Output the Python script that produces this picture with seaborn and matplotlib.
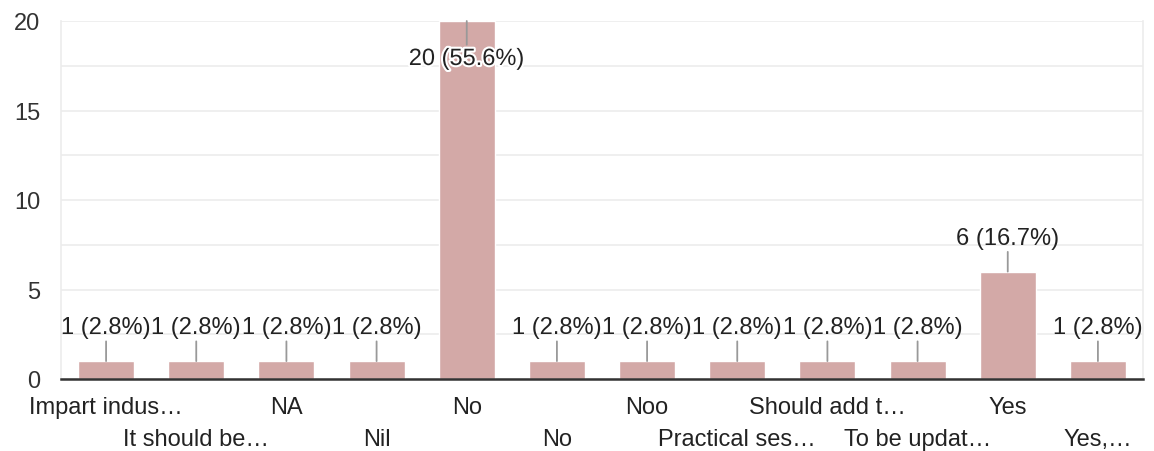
import matplotlib.pyplot as plt
import matplotlib.patheffects as pe
import seaborn as sns
import pandas as pd

# survey answers (truncated as shown in the chart) and their counts
answers = ['Impart indus…', 'It should be…', 'NA', 'Nil', 'No', 'No ', 'Noo',
           'Practical ses…', 'Should add t…', 'To be updat…', 'Yes', 'Yes,…']
counts = [1, 1, 1, 1, 20, 1, 1, 1, 1, 1, 6, 1]
percents = ['2.8%', '2.8%', '2.8%', '2.8%', '55.6%', '2.8%', '2.8%', '2.8%',
            '2.8%', '2.8%', '16.7%', '2.8%']
y_ticks = [0, 5, 10, 15, 20]

df = pd.DataFrame({'answer': answers, 'count': counts})

sns.set_theme(style='white')
plt.rcParams['font.family'] = ['Liberation Sans', 'DejaVu Sans']
FS = 17

fig = plt.figure(figsize=(11.54, 4.52), dpi=100)
ax = fig.add_axes([61 / 1154, 1 - 380 / 452, (1143 - 61) / 1154, (380 - 22) / 452])

sns.barplot(data=df, x='answer', y='count', color='#d3a9a7', saturation=1,
            width=0.62, ax=ax, zorder=3)

ax.set_ylim(0, 20)
ax.set_xlim(-0.5, len(answers) - 0.5)
ax.set_yticks(y_ticks)
ax.set_yticks([2.5, 7.5, 12.5, 17.5], minor=True)
ax.grid(axis='y', which='both', color='#ececec', linewidth=1.2, zorder=0)
ax.set_axisbelow(True)

for side in ['left', 'right']:
    ax.spines[side].set_color('#ececec')
    ax.spines[side].set_linewidth(1.2)
ax.spines['top'].set_visible(False)
ax.spines['bottom'].set_color('#333333')
ax.spines['bottom'].set_linewidth(1.8)
ax.spines['bottom'].set_zorder(5)

# category labels on two staggered rows
ax.set_xticks(range(len(answers)))
ax.set_xticklabels([])
ax.tick_params(axis='x', length=0)
for i, a in enumerate(answers):
    y = -0.078 if i % 2 == 0 else -0.168
    ax.text(i, y, a.strip(), transform=ax.get_xaxis_transform(), ha='center',
            va='center', fontsize=FS, color='#222222')

ax.tick_params(axis='y', which='both', length=0, labelsize=FS, labelcolor='#333333', pad=15)
ax.set_xlabel('')
ax.set_ylabel('')

for i, (c, p) in enumerate(zip(counts, percents)):
    txt = f'{c} ({p})'
    off = -38 if c == max(counts) else 34
    a = ax.annotate(txt, xy=(i, c), xytext=(0, off), textcoords='offset pixels',
                    ha='center', va='center', fontsize=FS, color='#222222',
                    arrowprops=dict(arrowstyle='-', color='#999999', lw=1.3,
                                    shrinkA=0, shrinkB=0), zorder=6)
    if c == max(counts):
        a.set_path_effects([pe.withStroke(linewidth=3, foreground='white')])

plt.savefig('out.png', dpi=100)
